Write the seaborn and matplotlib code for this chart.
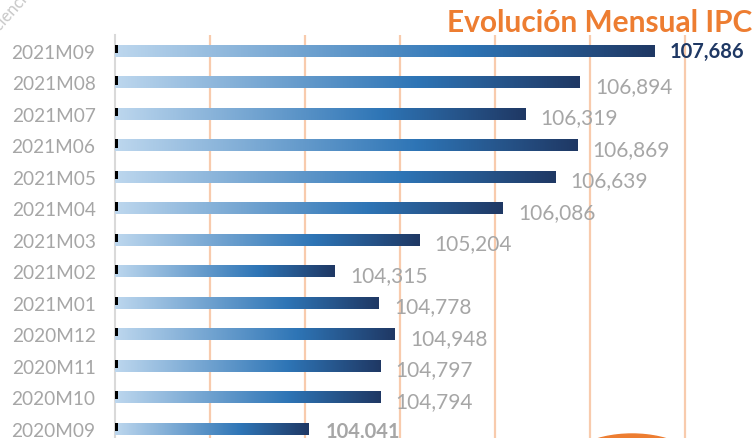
import numpy as np
import pandas as pd
import matplotlib
matplotlib.use('Agg')
import matplotlib.pyplot as plt
import seaborn as sns
from matplotlib.colors import LinearSegmentedColormap
from matplotlib.patches import Ellipse, Rectangle

# monthly CPI values
months = ['2021M09', '2021M08', '2021M07', '2021M06', '2021M05', '2021M04', '2021M03',
          '2021M02', '2021M01', '2020M12', '2020M11', '2020M10', '2020M09']
ipc = [107.686, 106.894, 106.319, 106.869, 106.639, 106.086, 105.204,
       104.315, 104.778, 104.948, 104.797, 104.794, 104.041]
x_start = 102
x_end = 108.73
grid_ticks = [103, 104, 105, 106, 107, 108]

df = pd.DataFrame({'mes': months, 'ipc': ipc})

sns.set_style('white')
plt.rcParams['font.family'] = ['Lato', 'DejaVu Sans']

fig = plt.figure(figsize=(7.54, 4.39), dpi=100)
ax = fig.add_axes([115 / 754, 0, 639 / 754, 403 / 439])

sns.barplot(data=df, x='ipc', y='mes', orient='h', width=0.38, color='#2e75b6', ax=ax)

cmap = LinearSegmentedColormap.from_list('ipc', [(0, '#bdd7ee'), (0.65, '#2e75b6'), (1, '#1f3864')])
grad = np.linspace(0, 1, 256).reshape(1, -1)
for p in ax.patches:
    x0, y0 = p.get_x(), p.get_y()
    w, h = p.get_width(), p.get_height()
    p.set_visible(False)
    # gradient only over the part inside the view
    ax.imshow(grad, cmap=cmap, aspect='auto', extent=(x_start, x0 + w, y0 + h, y0), zorder=3)
    ax.add_patch(Rectangle((x_start, y0), 0.03, h * 0.7, color='black', zorder=4, lw=0))

ax.set_xlim(x_start, x_end)
ax.set_ylim(12.3, -0.5)

for t in grid_ticks:
    ax.axvline(t, color='#f8cbad', lw=1.6, zorder=1)

for i, v in enumerate(ipc):
    lab = f'{v:.3f}'.replace('.', ',')
    if i == 0:
        ax.text(v + 0.16, i, lab, va='center', ha='left', fontsize=14.5,
                fontweight='bold', color='#1f3864')
    elif i == len(ipc) - 1:
        ax.text(v + 0.18, i + 0.08, lab, va='center', ha='left', fontsize=14.5,
                fontweight='bold', color='#a6a6a6')
    else:
        ax.text(v + 0.16, i + 0.12, lab, va='center', ha='left', fontsize=15,
                color='#a6a6a6')

ax.set_xticks([])
ax.set_xlabel('')
ax.set_ylabel('')
ax.tick_params(axis='y', length=0, pad=14, labelsize=13.7, labelcolor='#a6a6a6')
for s in ['top', 'right', 'bottom']:
    ax.spines[s].set_visible(False)
ax.spines['left'].set_color('#d9d9d9')
ax.spines['left'].set_linewidth(1.5)
ax.patch.set_alpha(0)

fig.text(0.998, 0.948, 'Evolución Mensual IPC', ha='right', va='center',
         fontsize=21.5, fontweight='bold', color='#ed7d31')
fig.text(-13 / 754, 1 - 45 / 439, 'Eficiencia', rotation=48, ha='left', va='baseline',
         rotation_mode='anchor', fontsize=12, color='#c8c8c8')
fig.add_artist(Ellipse((632 / 754, -36 / 439), 146 / 754, 80 / 439,
                       transform=fig.transFigure, color='#ed7d31', clip_on=False))

fig.savefig('out.png', dpi=100)
